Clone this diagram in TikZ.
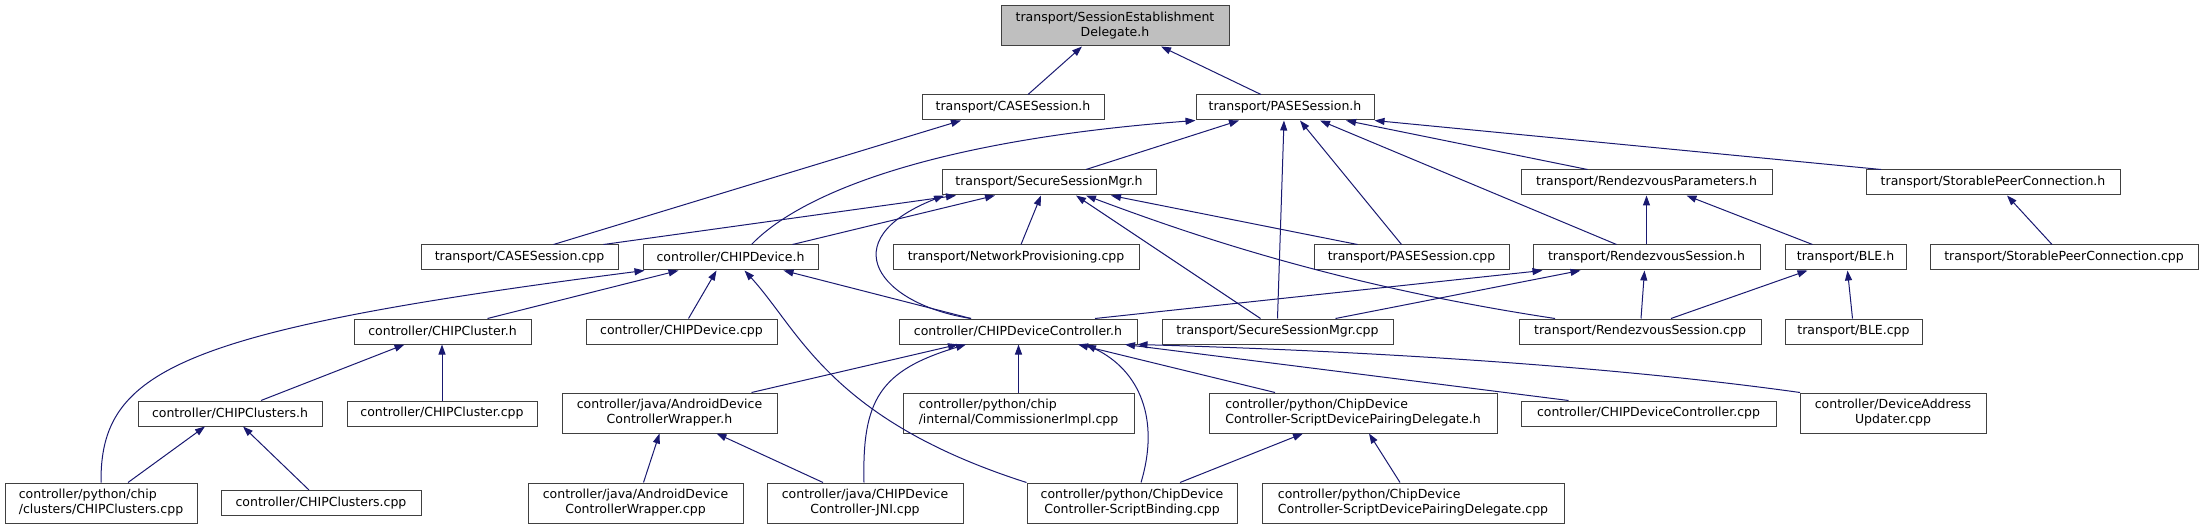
\documentclass[tikz,border=0pt]{standalone}
\usepackage{fontspec}
\setmainfont{DejaVu Sans}
\usepackage{xcolor}
\usetikzlibrary{arrows.meta}
\definecolor{edgeblue}{HTML}{191970}
\definecolor{boxline}{HTML}{404040}
\definecolor{rootfill}{HTML}{BFBFBF}

\begin{document}
\begin{tikzpicture}[x=1pt,y=-1pt,font=\fontsize{12.5}{15}\selectfont,
    file/.style={draw=boxline,fill=white,line width=1pt,inner sep=0pt,minimum height=25pt,text=black},
    twoline/.style={file,minimum height=40pt},
    link/.style={draw=edgeblue,line width=1pt,-{Triangle[length=10pt,width=7pt]}}]
  \useasboundingbox (0,0) rectangle (2203,529);
  % include targets
  \node[twoline,fill=rootfill,align=center,minimum width=228pt] (root) at (1115,26) {transport/SessionEstablishment\\Delegate.h};
  \node[file,minimum width=182pt] (caseh) at (1013,107.5) {transport/CASESession.h};
  \node[file,minimum width=178pt] (paseh) at (1285,107.5) {transport/PASESession.h};
  \node[file,minimum width=214pt] (ssmh) at (1049,182.5) {transport/SecureSessionMgr.h};
  \node[file,minimum width=251pt] (rvph) at (1646.5,182.5) {transport/RendezvousParameters.h};
  \node[file,minimum width=254pt] (sph) at (1993,182.5) {transport/StorablePeerConnection.h};
  \node[file,minimum width=197pt] (casecpp) at (519.5,257.5) {transport/CASESession.cpp};
  \node[file,minimum width=175pt] (devh) at (730.5,257.5) {controller/CHIPDevice.h};
  \node[file,minimum width=246pt] (netprov) at (1016,257.5) {transport/NetworkProvisioning.cpp};
  \node[file,minimum width=195pt] (pasecpp) at (1411.5,257.5) {transport/PASESession.cpp};
  \node[file,minimum width=227pt] (rvsh) at (1646.5,257.5) {transport/RendezvousSession.h};
  \node[file,minimum width=121pt] (bleh) at (1845.5,257.5) {transport/BLE.h};
  \node[file,minimum width=268pt] (spcpp) at (2064,257.5) {transport/StorablePeerConnection.cpp};
  \node[file,minimum width=177pt] (clusterh) at (442.5,331.5) {controller/CHIPCluster.h};
  \node[file,minimum width=191pt] (devcpp) at (681.5,331.5) {controller/CHIPDevice.cpp};
  \node[file,minimum width=238pt] (ctrlh) at (1018,331.5) {controller/CHIPDeviceController.h};
  \node[file,minimum width=231pt] (ssmcpp) at (1277.5,331.5) {transport/SecureSessionMgr.cpp};
  \node[file,minimum width=242pt] (rvscpp) at (1640,331.5) {transport/RendezvousSession.cpp};
  \node[file,minimum width=137pt] (blecpp) at (1853.5,331.5) {transport/BLE.cpp};
  \node[file,minimum width=184pt] (clustersh) at (230,413.5) {controller/CHIPClusters.h};
  \node[file,minimum width=190pt] (clustercpp) at (442,413.5) {controller/CHIPCluster.cpp};
  \node[twoline,align=center,minimum width=215pt] (wrapperh) at (669.5,413) {controller/java/AndroidDevice\\ControllerWrapper.h};
  \node[twoline,align=left,minimum width=231pt] (commimpl) at (1018.5,413) {controller/python/chip\\/internal/CommissionerImpl.cpp};
  \node[twoline,align=left,minimum width=288pt] (pairh) at (1353,413) {controller/python/ChipDevice\\Controller-ScriptDevicePairingDelegate.h};
  \node[file,minimum width=255pt] (ctrlcpp) at (1648.5,413.5) {controller/CHIPDeviceController.cpp};
  \node[twoline,align=center,minimum width=186pt] (addrupd) at (1893,413) {controller/DeviceAddress\\Updater.cpp};
  \node[twoline,align=left,minimum width=192pt] (pyclusters) at (101,503) {controller/python/chip\\/clusters/CHIPClusters.cpp};
  \node[file,minimum width=200pt] (clusterscpp) at (321,503) {controller/CHIPClusters.cpp};
  \node[twoline,align=center,minimum width=215pt] (wrappercpp) at (635.5,503) {controller/java/AndroidDevice\\ControllerWrapper.cpp};
  \node[twoline,align=center,minimum width=196pt] (jni) at (865,503) {controller/java/CHIPDevice\\Controller-JNI.cpp};
  \node[twoline,align=center,minimum width=210pt] (bind) at (1132,503) {controller/python/ChipDevice\\Controller-ScriptBinding.cpp};
  \node[twoline,align=left,minimum width=302pt] (paircpp) at (1413,503) {controller/python/ChipDevice\\Controller-ScriptDevicePairingDelegate.cpp};
  % edges, tip on the included file
  \draw[link] ([xshift=15]caseh.north) -- ([xshift=-33]root.south);
  \draw[link] ([xshift=-24]paseh.north) -- ([xshift=46]root.south);
  \draw[link] ([xshift=34]casecpp.north) -- ([xshift=-52]caseh.south);
  \draw[link] ([xshift=21]devh.north) .. controls +(48,-50) and +(-266,20) .. (paseh.south west);
  \draw[link] ([xshift=37]ssmh.north) -- ([xshift=-46]paseh.south);
  \draw[link] (ssmcpp.north) -- ([xshift=-1]paseh.south);
  \draw[link] ([xshift=-10]pasecpp.north) -- ([xshift=15]paseh.south);
  \draw[link] ([xshift=-30]rvsh.north) -- ([xshift=35]paseh.south);
  \draw[link] ([xshift=-59]rvph.north) -- ([xshift=61]paseh.south);
  \draw[link] ([xshift=-112]sph.north) -- (paseh.south east);
  \draw[link] ([xshift=84]casecpp.north) -- ([xshift=-93]ssmh.south);
  \draw[link] ([xshift=62]devh.north) -- ([xshift=-54]ssmh.south);
  \draw[link] ([xshift=5]netprov.north) -- ([xshift=-8]ssmh.south);
  \draw[link] ([xshift=-47]ctrlh.north) .. controls +(-91,-14) and +(-114,45) .. ([xshift=-105]ssmh.south);
  \draw[link] ([xshift=-54]pasecpp.north) -- ([xshift=62]ssmh.south);
  \draw[link] ([xshift=-17]ssmcpp.north) -- ([xshift=27]ssmh.south);
  \draw[link] ([xshift=-85]rvscpp.north) .. controls +(-225,-34) and +(94,35) .. ([xshift=37]ssmh.south);
  \draw[link] (rvsh.north) -- (rvph.south);
  \draw[link] ([xshift=-33]bleh.north) -- ([xshift=40]rvph.south);
  \draw[link] ([xshift=-12]spcpp.north) -- ([xshift=14]sph.south);
  \draw[link] ([xshift=77]ctrlh.north) -- ([xshift=-104]rvsh.south);
  \draw[link] ([xshift=58]ssmcpp.north) -- ([xshift=-66]rvsh.south);
  \draw[link] ([xshift=1]rvscpp.north) -- ([xshift=-2]rvsh.south);
  \draw[link] ([xshift=31]rvscpp.north) -- ([xshift=-38]bleh.south);
  \draw[link] ([xshift=-1]blecpp.north) -- ([xshift=2]bleh.south);
  \draw[link] (pyclusters.north) .. controls +(-1,-113) and +(-465,60) .. ([xshift=2]devh.south west);
  \draw[link] ([xshift=45]clusterh.north) -- ([xshift=-52]devh.south);
  \draw[link] ([xshift=7]devcpp.north) -- ([xshift=-14]devh.south);
  \draw[link] (bind.north west) .. controls +(-197,-63) and +(55,60) .. ([xshift=14]devh.south);
  \draw[link] ([xshift=-47]ctrlh.north) -- ([xshift=53]devh.south);
  \draw[link] ([xshift=31]clustersh.north) -- ([xshift=-38]clusterh.south);
  \draw[link] (clustercpp.north) -- ([xshift=-0.5]clusterh.south);
  \draw[link] ([xshift=27]pyclusters.north) -- ([xshift=-25]clustersh.south);
  \draw[link] ([xshift=-12]clusterscpp.north) -- ([xshift=13]clustersh.south);
  \draw[link] ([xshift=82]wrapperh.north) -- ([xshift=-60]ctrlh.south);
  \draw[link] ([xshift=-1]jni.north) .. controls +(-2,-83) and +(-86,26) .. ([xshift=-52]ctrlh.south);
  \draw[link] (commimpl.north) -- ([xshift=0.5]ctrlh.south);
  \draw[link] ([xshift=-78]pairh.north) -- ([xshift=60]ctrlh.south);
  \draw[link] ([xshift=9]bind.north) .. controls +(19,-63) and +(54,26) .. ([xshift=68]ctrlh.south);
  \draw[link] ([xshift=-80]ctrlcpp.north) -- ([xshift=107]ctrlh.south);
  \draw[link] ([xshift=-93]addrupd.north) .. controls +(-200,-28) and +(212,6) .. (ctrlh.south east);
  \draw[link] ([xshift=8]wrappercpp.north) -- ([xshift=-10]wrapperh.south);
  \draw[link] ([xshift=-42]jni.north) -- ([xshift=47]wrapperh.south);
  \draw[link] ([xshift=48]bind.north) -- ([xshift=-50]pairh.south);
  \draw[link] ([xshift=-13]paircpp.north) -- ([xshift=16]pairh.south);
\end{tikzpicture}
\end{document}
